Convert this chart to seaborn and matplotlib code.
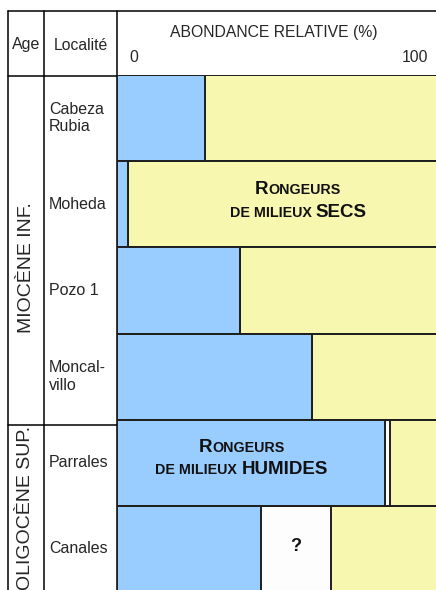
import pandas as pd
import matplotlib.pyplot as plt
import seaborn as sns
from matplotlib.lines import Line2D
from matplotlib.offsetbox import TextArea, HPacker, VPacker, AnnotationBbox

# -----------------------------------------------------------
# Data (relative abundance, %)
# -----------------------------------------------------------
localites = ["Cabeza\nRubia", "Moheda", "Pozo 1", "Moncal-\nvillo", "Parrales", "Canales"]
humides = [27.5, 3.5, 38.3, 60.8, 83.5, 44.8]
indetermines = [0.0, 0.0, 0.0, 0.0, 1.7, 22.0]
secs = [72.5, 96.5, 61.7, 39.2, 14.8, 33.2]
ages = ["MIOCÈNE INF.", "OLIGOCÈNE SUP."]

df = pd.DataFrame({"localite": localites, "humides": humides,
                   "indet": indetermines, "secs": secs})
df["cum_indet"] = df["humides"] + df["indet"]
df["total"] = df["cum_indet"] + df["secs"]

BLUE = "#99ccff"
YELLOW = "#f7f7b0"
WHITE = "#fdfdfd"
EDGE = "#1e1e1e"

sns.set_style("white")
plt.rcParams["font.family"] = ["Liberation Sans", "DejaVu Sans"]

W, H = 436, 590
fig = plt.figure(figsize=(W / 100, H / 100), dpi=100)

# background axes in pixel units for the table frame
bg = fig.add_axes([0, 0, 1, 1])
bg.set_xlim(0, W)
bg.set_ylim(H, 0)
bg.axis("off")

lw_tab = 1.1
for x in (8, 44, 117):
    bg.add_line(Line2D([x, x], [11, H + 5], color="black", lw=lw_tab))
bg.add_line(Line2D([8, W + 5], [11, 11], color="black", lw=lw_tab))
bg.add_line(Line2D([8, W + 5], [76, 76], color="black", lw=lw_tab))
bg.add_line(Line2D([8, 117], [425, 425], color="black", lw=lw_tab))

bg.text(26, 45, "Age", ha="center", va="center", fontsize=11.5)
bg.text(81, 45, "Localité", ha="center", va="center", fontsize=11.3)
bg.text(274, 33, "ABONDANCE RELATIVE (%)", ha="center", va="center", fontsize=11.3)
bg.text(134, 57, "0", ha="center", va="center", fontsize=11.3)
bg.text(415, 57, "100", ha="center", va="center", fontsize=11.3)
bg.text(26, 268, ages[0], rotation=90, ha="center", va="center", fontsize=14)
bg.text(26, 508, ages[1], rotation=90, ha="center", va="center", fontsize=14)

# bar axes
ax = fig.add_axes([117 / W, (H - 592) / H, (438 - 117) / W, (592 - 75) / H])
ax.patch.set_alpha(0)

common = dict(y="localite", orient="h", width=1, saturation=1,
              edgecolor=EDGE, linewidth=1.4, errorbar=None, ax=ax)
sns.barplot(data=df, x="total", color=YELLOW, **common)
sns.barplot(data=df, x="cum_indet", color=WHITE, **common)
sns.barplot(data=df, x="humides", color=BLUE, **common)

ax.set_xlim(0, 100)
ax.set_ylim(5.5, -0.5)
ax.axis("off")

for i, name in enumerate(localites):
    ax.text(-0.212, i, name, transform=ax.get_yaxis_transform(),
            ha="left", va="center", fontsize=11.5, linespacing=1.2, clip_on=False)


def label_block(word, x, y):
    big, small = 13.5, 10.3
    props_b = dict(fontsize=big, fontweight="bold", color="#111111")
    props_s = dict(fontsize=small, fontweight="bold", color="#111111")
    line1 = HPacker(children=[TextArea("R", textprops=props_b),
                              TextArea("ONGEURS", textprops=props_s)],
                    align="baseline", pad=0, sep=0)
    line2 = HPacker(children=[TextArea("DE MILIEUX ", textprops=props_s),
                              TextArea(word, textprops=props_b)],
                    align="baseline", pad=0, sep=0)
    box = VPacker(children=[line1, line2], align="center", pad=0, sep=4)
    ab = AnnotationBbox(box, (x, y), xycoords="data", frameon=False,
                        box_alignment=(0.5, 0.5), pad=0)
    ax.add_artist(ab)


label_block("SECS", 56.4, 1 - 0.04)
label_block("HUMIDES", 38.8, 4 - 0.05)
ax.text(humides[5] + indetermines[5] / 2, 5 - 0.03, "?", ha="center", va="center",
        fontsize=13, fontweight="bold", color="#111111")

plt.savefig("out.png", dpi=100)
